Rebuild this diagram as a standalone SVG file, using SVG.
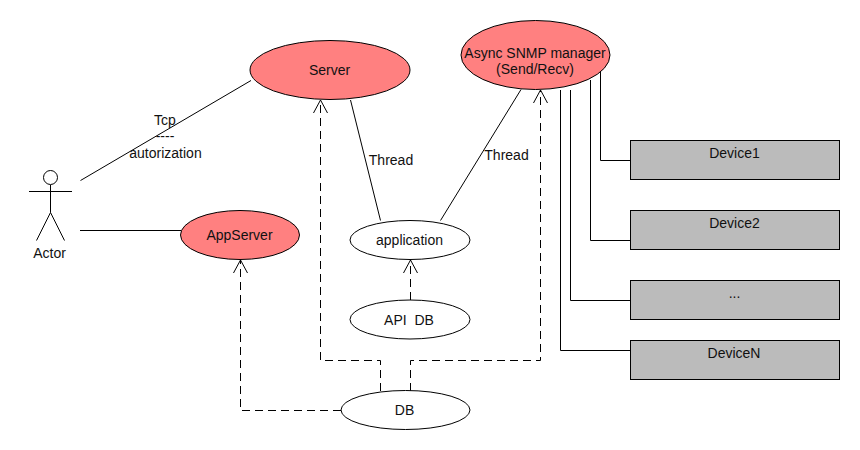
<svg xmlns="http://www.w3.org/2000/svg" width="860" height="450" viewBox="0 0 860 450">
<defs>
<marker id="open" markerUnits="userSpaceOnUse" markerWidth="16" markerHeight="16" refX="13" refY="7" orient="auto" viewBox="0 0 16 14"><path d="M0 0L13 7L0 14" fill="none" stroke="#000" stroke-width="1"/></marker>
</defs>
<style>
text{font-family:"Liberation Sans",Arial,sans-serif;font-size:14px;fill:#111;text-anchor:middle;white-space:pre}
.n{fill:#fff;stroke:#000;stroke-width:1}
.r{fill:#ff8080;stroke:#000;stroke-width:1}
.d{fill:#bbb;stroke:#000;stroke-width:1}
.l{fill:none;stroke:#000;stroke-width:1}
.a{fill:none;stroke:#000;stroke-width:1;stroke-dasharray:8 5;marker-end:url(#open)}
</style>
<rect width="860" height="450" fill="#fff"/>
<g id="connectors">
<path class="l" d="M80.500 180.500L251 80.500"/>
<path class="l" d="M80 230.500H181"/>
<path class="l" d="M350.500 100L380.500 220.500"/>
<path class="l" d="M521 89.500L440.500 220.500"/>
<path class="l" d="M600.500 71V160.500H631"/>
<path class="l" d="M590.500 80V240.500H631"/>
<path class="l" d="M570.500 90V300.500H631"/>
<path class="l" d="M560.500 90V350.500H631"/>
<path class="a" d="M410.500 300V260"/>
<path class="a" d="M380.500 391V360.500H320.500V100"/>
<path class="a" d="M410.500 391V360.500H540.500V90"/>
<path class="a" d="M341 410.500H240.500V260"/>
<text x="165" y="125">Tcp</text>
<text x="165" y="141">----</text>
<text x="165.500" y="158">autorization</text>
<text x="391" y="165">Thread</text>
<text x="506.500" y="160">Thread</text>
</g>
<g id="actor">
<circle class="l" cx="50.500" cy="177.500" r="7"/>
<path class="l" d="M29 191.500H72M50.500 185V212.500M50.500 212.500L36.500 240.500M50.500 212.500L64.500 240.500"/>
<text x="49.500" y="258">Actor</text>
</g>
<g id="server"><ellipse class="r" cx="330" cy="70" rx="80" ry="29.500"/><text x="329.500" y="75">Server</text></g>
<g id="snmp"><ellipse class="r" cx="535.500" cy="55" rx="74.500" ry="34.500"/><text x="535" y="58">Async SNMP manager</text><text x="535" y="74">(Send/Recv)</text></g>
<g id="appserver"><ellipse class="r" cx="240" cy="235" rx="59.500" ry="24.500"/><text x="239.500" y="240">AppServer</text></g>
<g id="application"><ellipse class="n" cx="410" cy="240" rx="60" ry="19.500"/><text x="409.500" y="245">application</text></g>
<g id="apidb"><ellipse class="n" cx="410" cy="319.500" rx="60" ry="19.500"/><text x="409" y="325" xml:space="preserve">API  DB</text></g>
<g id="db"><ellipse class="n" cx="405.500" cy="410" rx="64.500" ry="19.500"/><text x="404.500" y="415">DB</text></g>
<g id="device1"><rect class="d" x="630.500" y="140.500" width="209" height="39"/><text x="734.500" y="158">Device1</text></g>
<g id="device2"><rect class="d" x="630.500" y="210.500" width="209" height="39"/><text x="734.500" y="228">Device2</text></g>
<g id="device3"><rect class="d" x="630.500" y="280.500" width="209" height="39"/><text x="734.500" y="298">...</text></g>
<g id="deviceN"><rect class="d" x="630.500" y="340.500" width="209" height="39"/><text x="734" y="358">DeviceN</text></g>
</svg>
